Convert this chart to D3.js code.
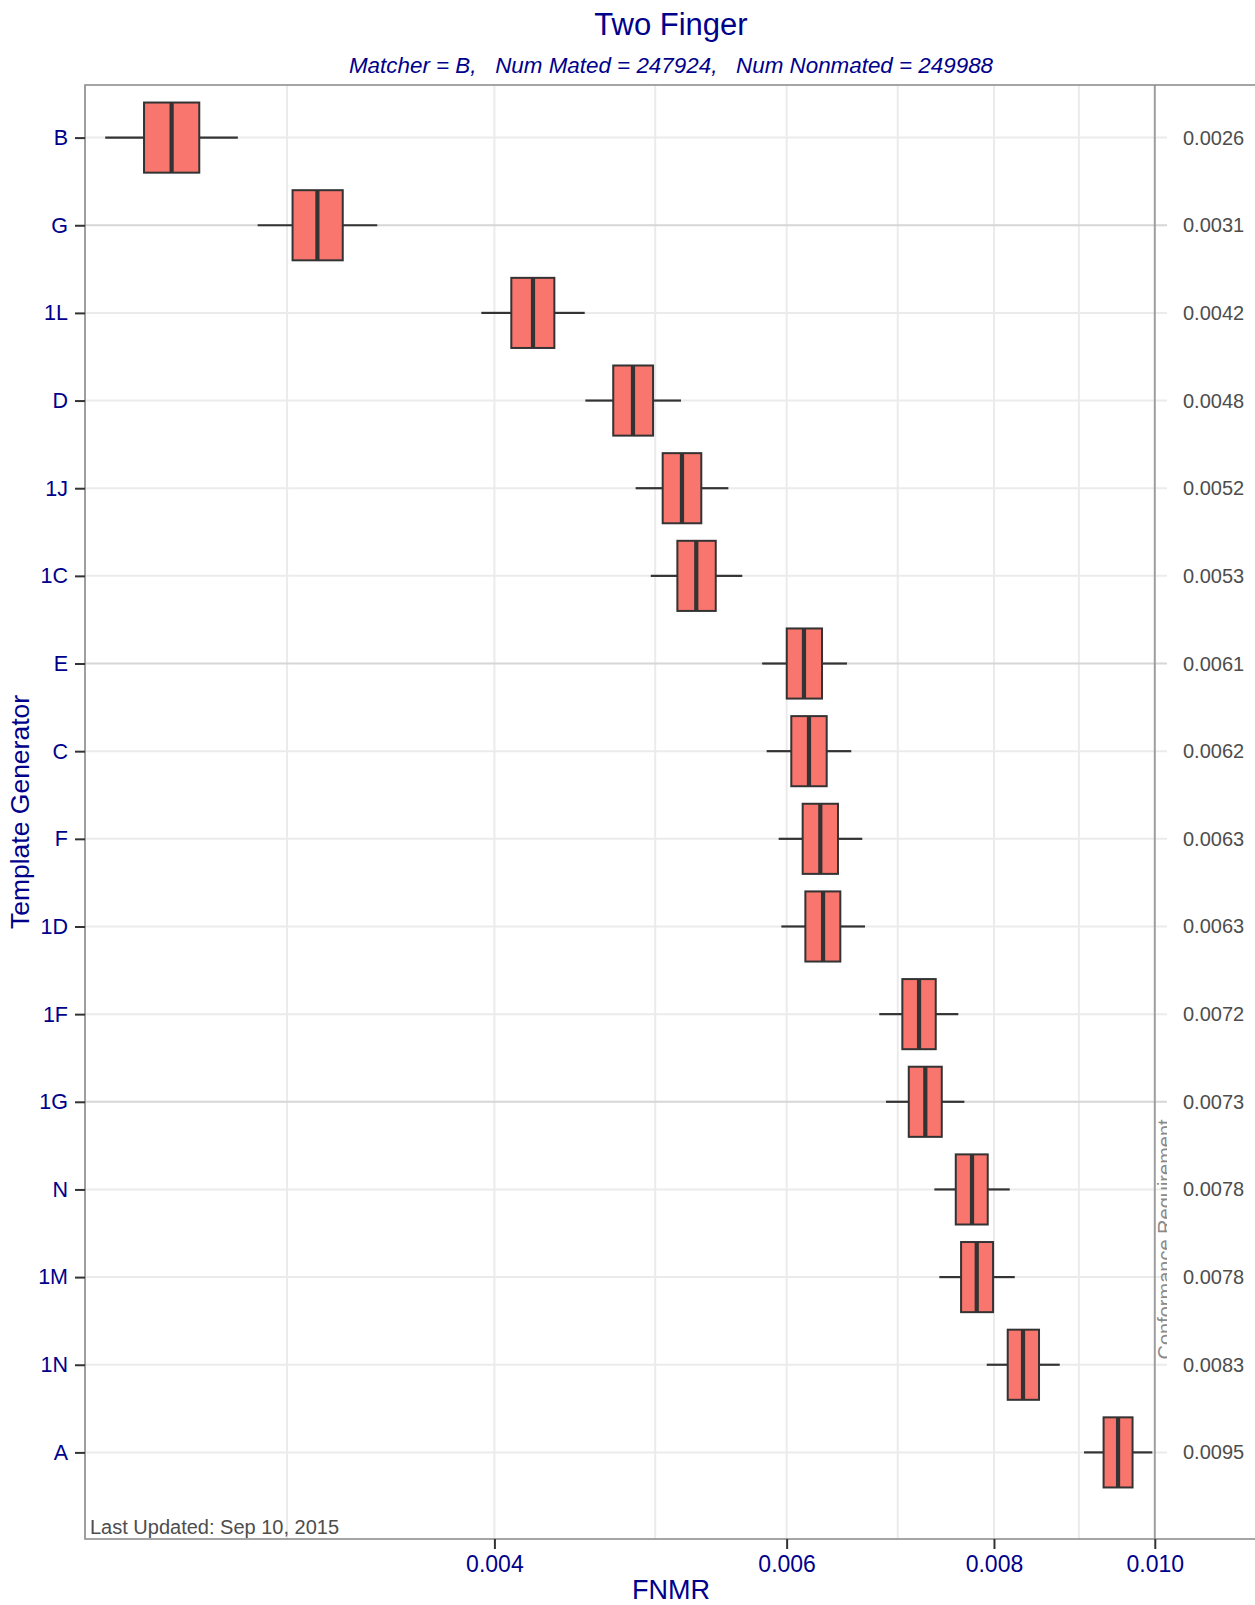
<!DOCTYPE html>
<html>
<head>
<meta charset="utf-8">
<script src="https://cdn.jsdelivr.net/npm/d3@7"></script>
<style>
  html, body { margin: 0; padding: 0; background: #fff; }
  svg { display: block; font-family: "Liberation Sans", Arial, Helvetica, sans-serif; }
</style>
</head>
<body>
<svg id="chart" width="1255" height="1605"></svg>
<script>
// Template generators, ordered top to bottom
const generators = ["B", "G", "1L", "D", "1J", "1C", "E", "C", "F", "1D", "1F", "1G", "N", "1M", "1N", "A"];

// Box statistics of FNMR per generator
const whiskerLow  = [0.002331, 0.002880, 0.003928, 0.004538, 0.004866, 0.004969, 0.005799, 0.005836, 0.005934, 0.005956, 0.006823, 0.006887, 0.007365, 0.007416, 0.007920, 0.009065];
const lowerQuart  = [0.002460, 0.003023, 0.004095, 0.004717, 0.005052, 0.005156, 0.006001, 0.006039, 0.006135, 0.006158, 0.007045, 0.007108, 0.007587, 0.007643, 0.008154, 0.009314];
const medians     = [0.002556, 0.003129, 0.004220, 0.004848, 0.005189, 0.005293, 0.006146, 0.006189, 0.006287, 0.006311, 0.007210, 0.007273, 0.007760, 0.007811, 0.008329, 0.009503];
const upperQuart  = [0.002656, 0.003241, 0.004347, 0.004985, 0.005330, 0.005438, 0.006302, 0.006343, 0.006443, 0.006464, 0.007379, 0.007441, 0.007931, 0.007990, 0.008516, 0.009696];
const whiskerHigh = [0.002802, 0.003400, 0.004534, 0.005182, 0.005534, 0.005642, 0.006524, 0.006563, 0.006664, 0.006689, 0.007614, 0.007678, 0.008177, 0.008234, 0.008764, 0.009966];

// Axis ticks
const majorTicks = [0.004, 0.006, 0.008, 0.010];
const minorTicks = [0.003, 0.005, 0.007, 0.009];
const conformanceLevel = 0.010;

// Rows whose grid line is drawn heavier
const heavyRows = ["G", "E", "1G"];

const titleText = "Two Finger";
const subtitleText = "Matcher = B,   Num Mated = 247924,   Num Nonmated = 249988";
const updatedText = "Last Updated: Sep 10, 2015";

const boxes = generators.map((g, i) => ({
  gen: g, lo: whiskerLow[i], q1: lowerQuart[i], med: medians[i], q3: upperQuart[i], hi: whiskerHigh[i]
}));

const svg = d3.select("#chart");
const blue = "#00008b";

const panel = { left: 85, top: 85, right: 1167, bottom: 1539, borderRight: 1262 };

const x = d3.scaleLog().domain([0.004, 0.010]).range([494.4, 1154.8]);
const y = d3.scalePoint().domain(generators).range([137.6, 1452.4]);
const boxH = y.step() * 0.8;

// clip region for the data panel
svg.append("defs").append("clipPath").attr("id", "panelClip")
  .append("rect")
  .attr("x", panel.left).attr("y", panel.top)
  .attr("width", panel.right - panel.left).attr("height", panel.bottom - panel.top);

const plot = svg.append("g").attr("clip-path", "url(#panelClip)");

// vertical grid lines
plot.selectAll("line.vgrid")
  .data(minorTicks.concat(majorTicks.filter(t => t !== conformanceLevel)))
  .join("line")
  .attr("class", "vgrid")
  .attr("x1", d => x(d)).attr("x2", d => x(d))
  .attr("y1", panel.top).attr("y2", panel.bottom)
  .attr("stroke", "#ebebeb").attr("stroke-width", 2);

// horizontal grid lines
plot.selectAll("line.hgrid")
  .data(generators)
  .join("line")
  .attr("class", "hgrid")
  .attr("x1", panel.left).attr("x2", panel.right)
  .attr("y1", d => y(d)).attr("y2", d => y(d))
  .attr("stroke", d => heavyRows.includes(d) ? "#d6d6d6" : "#ebebeb")
  .attr("stroke-width", 2);

// conformance requirement line
plot.append("line")
  .attr("x1", x(conformanceLevel)).attr("x2", x(conformanceLevel))
  .attr("y1", panel.top).attr("y2", panel.bottom)
  .attr("stroke", "#9e9e9e").attr("stroke-width", 2);

plot.append("text")
  .attr("transform", `translate(${x(conformanceLevel) + 17},${y("N") + 50}) rotate(-90)`)
  .attr("text-anchor", "middle")
  .attr("font-size", 20)
  .attr("fill", "#8a8a8a")
  .text("Conformance Requirement");

// boxes
const bx = plot.selectAll("g.box").data(boxes).join("g").attr("class", "box");

bx.append("line")
  .attr("x1", d => x(d.lo)).attr("x2", d => x(d.q1))
  .attr("y1", d => y(d.gen)).attr("y2", d => y(d.gen))
  .attr("stroke", "#333").attr("stroke-width", 2.2);
bx.append("line")
  .attr("x1", d => x(d.q3)).attr("x2", d => x(d.hi))
  .attr("y1", d => y(d.gen)).attr("y2", d => y(d.gen))
  .attr("stroke", "#333").attr("stroke-width", 2.2);
bx.append("rect")
  .attr("x", d => x(d.q1)).attr("width", d => x(d.q3) - x(d.q1))
  .attr("y", d => y(d.gen) - boxH / 2).attr("height", boxH)
  .attr("fill", "#f8766d").attr("stroke", "#333").attr("stroke-width", 2);
bx.append("line")
  .attr("x1", d => x(d.med)).attr("x2", d => x(d.med))
  .attr("y1", d => y(d.gen) - boxH / 2).attr("y2", d => y(d.gen) + boxH / 2)
  .attr("stroke", "#333").attr("stroke-width", 4.2);

// last updated note
svg.append("text")
  .attr("x", 90).attr("y", 1534)
  .attr("font-size", 20).attr("fill", "#4d4d4d")
  .text(updatedText);

// panel border
svg.append("path")
  .attr("d", `M${panel.borderRight},${panel.top}H${panel.left}V${panel.bottom}H${panel.borderRight}`)
  .attr("fill", "none").attr("stroke", "#888").attr("stroke-width", 1.6);

// median value labels on the right
svg.selectAll("text.medlab").data(boxes).join("text")
  .attr("class", "medlab")
  .attr("x", 1183).attr("y", d => y(d.gen)).attr("dy", "0.35em")
  .attr("font-size", 20).attr("fill", "#4d4d4d")
  .text(d => d3.format(".4f")(d.med));

// y axis
const yAxis = svg.append("g").attr("transform", `translate(${panel.left},0)`)
  .call(d3.axisLeft(y).tickSize(10).tickPadding(7));
yAxis.select(".domain").remove();
yAxis.selectAll(".tick line").attr("stroke", "#333").attr("stroke-width", 2);
yAxis.selectAll(".tick text").attr("font-size", 21.5).attr("fill", blue)
  .attr("font-family", "Liberation Sans, Arial, sans-serif");

// x axis
const xAxis = svg.append("g").attr("transform", `translate(0,${panel.bottom})`)
  .call(d3.axisBottom(x).tickValues(majorTicks).tickFormat(d3.format(".3f")).tickSize(10).tickPadding(7));
xAxis.select(".domain").remove();
xAxis.selectAll(".tick line").attr("stroke", "#333").attr("stroke-width", 2);
xAxis.selectAll(".tick text").attr("font-size", 23).attr("fill", blue)
  .attr("font-family", "Liberation Sans, Arial, sans-serif");

// axis titles
svg.append("text")
  .attr("x", 671).attr("y", 1599)
  .attr("text-anchor", "middle").attr("font-size", 27).attr("fill", blue)
  .text("FNMR");
svg.append("text")
  .attr("transform", `translate(29,${(panel.top + panel.bottom) / 2}) rotate(-90)`)
  .attr("text-anchor", "middle").attr("font-size", 26.5).attr("fill", blue)
  .text("Template Generator");

// titles
svg.append("text")
  .attr("x", 671).attr("y", 35)
  .attr("text-anchor", "middle").attr("font-size", 31).attr("fill", blue)
  .text(titleText);
svg.append("text")
  .attr("x", 671).attr("y", 73)
  .attr("text-anchor", "middle").attr("font-size", 22.4).attr("font-style", "italic").attr("fill", blue)
  .style("white-space", "pre")
  .text(subtitleText);
</script>
</body>
</html>
